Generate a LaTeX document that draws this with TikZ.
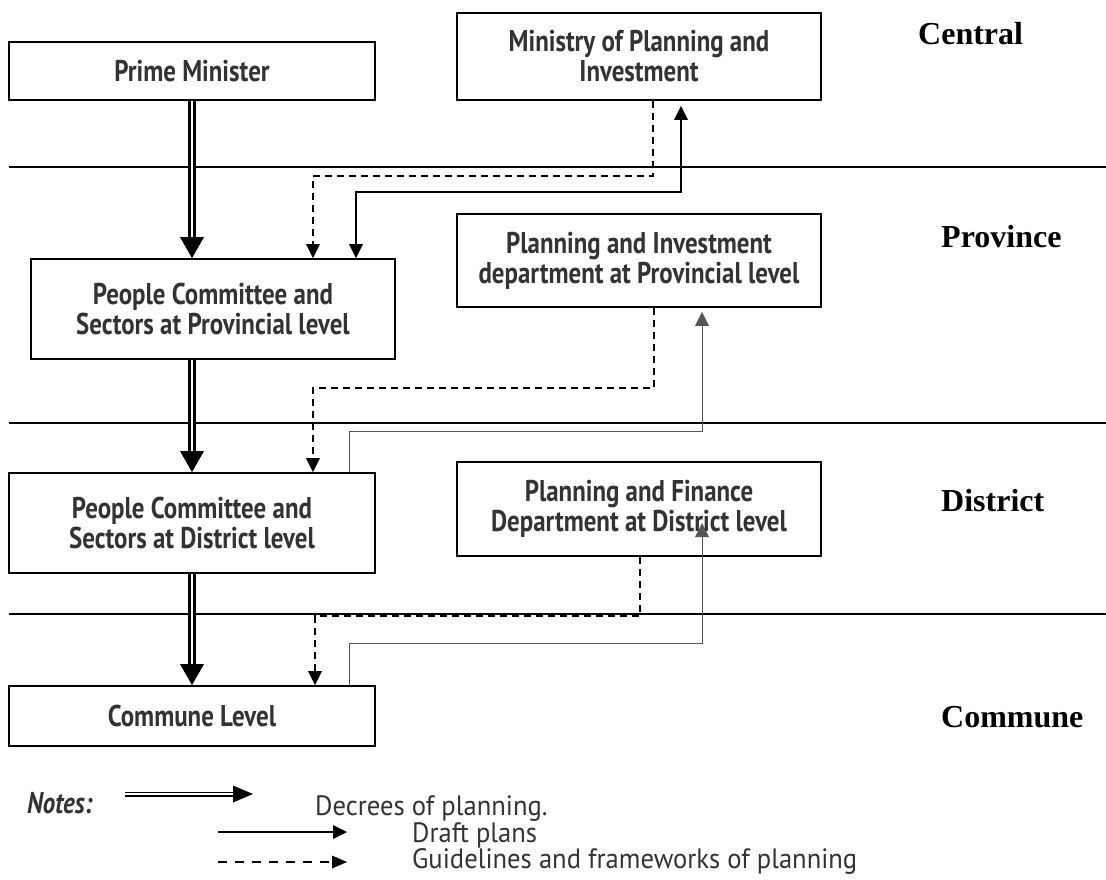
\documentclass[tikz,border=0pt]{standalone}
\usepackage{fontspec}
\usetikzlibrary{arrows.meta}
\newfontfamily\boxfont{PT Sans}[FakeStretch=0.83]
\newfontfamily\notefont{PT Sans}[FakeStretch=0.95]
\newfontfamily\lvlfont{Liberation Serif}
\definecolor{txt}{HTML}{333333}
\definecolor{thin}{HTML}{555555}
\tikzset{
  box/.style={draw, line width=1.8pt, fill=white, text=txt, align=center,
    font=\boxfont\bfseries\fontsize{30}{30}\selectfont, inner sep=0pt},
  sepline/.style={line width=1.8pt},
  decree/.style={line width=7.5pt, -{Triangle[width=24pt,length=21pt,line width=0pt]},
    postaction={draw=white, line width=2.4pt, arrows=-, shorten >=21.5pt}},
  decreeleg/.style={line width=5pt, -{Triangle[width=17pt,length=20pt,line width=0pt]},
    postaction={draw=white, line width=1.4pt, arrows=-, shorten >=20.5pt}},
  draft/.style={line width=1.8pt, -{Triangle[width=14pt,length=14pt,line width=0pt]}},
  draftthin/.style={line width=1pt, draw=thin, -{Triangle[width=14pt,length=14pt,line width=0pt]}},
  guide/.style={line width=1.8pt, dash pattern=on 7pt off 5pt, -{Triangle[width=14pt,length=14pt,line width=0pt]}},
  guideleg/.style={line width=1.8pt, dash pattern=on 9pt off 8pt, -{Triangle[width=13pt,length=15pt,line width=0pt]}},
  lvl/.style={anchor=base west, font=\lvlfont\bfseries\fontsize{32}{34}\selectfont, inner sep=0pt},
  note/.style={anchor=base west, text=txt, font=\notefont\fontsize{28}{29}\selectfont, inner sep=0pt},
}
\begin{document}
\begin{tikzpicture}[x=1pt, y=-1pt]
\useasboundingbox (0,0) rectangle (1106,880);
% level separators
\draw[sepline] (9,167) -- (1106,167);
\draw[sepline] (9,423) -- (1106,423);
\draw[sepline] (9,614) -- (1106,614);
% boxes
\node[box, minimum width=366pt, minimum height=58pt] (pm) at (192,71) {Prime Minister};
\node[box, minimum width=364pt, minimum height=87pt] (min) at (639,56.5) {Ministry of Planning and\\Investment};
\node[box, minimum width=364pt, minimum height=100pt] (pcp) at (213,309) {People Committee and\\Sectors at Provincial level};
\node[box, minimum width=364pt, minimum height=93pt] (pi) at (639,260.5) {Planning and Investment\\department at Provincial level};
\node[box, minimum width=366pt, minimum height=100pt] (pcd) at (192,523) {People Committee and\\Sectors at District level};
\node[box, minimum width=364pt, minimum height=94pt] (pf) at (639,509) {Planning and Finance\\Department at District level};
\node[box, minimum width=366pt, minimum height=60pt] (com) at (192,716) {Commune Level};
% level labels
\node[lvl] (lc) at (918,45) {Central};
\node[lvl] (lp) at (941,247) {Province};
\node[lvl] (ld) at (941,511) {District};
\node[lvl] (lm) at (941,727) {Commune};
% decrees
\draw[decree] (pm.south) -- (pm.south |- pcp.north);
\draw[decree] (192,0 |- pcp.south) -- (pcd.north);
\draw[decree] (pcd.south) -- (com.north);
% central <-> province
\draw[guide] (653,0 |- min.south) -- (653,176) -| (313,0 |- pcp.north);
\draw[draft, {Triangle[width=14pt,length=14pt,line width=0pt]}-{Triangle[width=14pt,length=14pt,line width=0pt]}, shorten >=5pt]
  (356,0 |- pcp.north) -- (356,192) -| (681,0 |- min.south);
% province <-> district
\draw[guide] (654,0 |- pi.south) -- (654,388) -| (313,0 |- pcd.north);
\draw[draftthin, shorten >=4pt] (349,0 |- pcd.north) -- (349,431) -| (702,0 |- pi.south);
% district <-> commune
\coordinate (pftip) at (702,523);
\draw[guide] (640,0 |- pf.south) -- (640,616) -| (315,0 |- com.north);
\draw[draftthin] (349,0 |- com.north) -- (349,643) -| (pftip);
% notes
\node[anchor=base west, text=txt, font=\boxfont\bfseries\itshape\fontsize{30}{30}\selectfont, inner sep=0pt] (notes) at (27,813) {Notes:};
\coordinate (d1) at (125,794); \coordinate (d2) at (253,794);
\coordinate (f1) at (218,832); \coordinate (f2) at (347,832);
\coordinate (g1) at (218,862); \coordinate (g2) at (347,862);
\draw[decreeleg] (d1) -- (d2);
\draw[draft] (f1) -- (f2);
\draw[guideleg] (g1) -- (g2);
\node[note] (n1) at (315,815) {Decrees of planning.};
\node[note] (n2) at (412,842) {Draft plans};
\node[note] (n3) at (412,868) {Guidelines and frameworks of planning};
\end{tikzpicture}
\end{document}
